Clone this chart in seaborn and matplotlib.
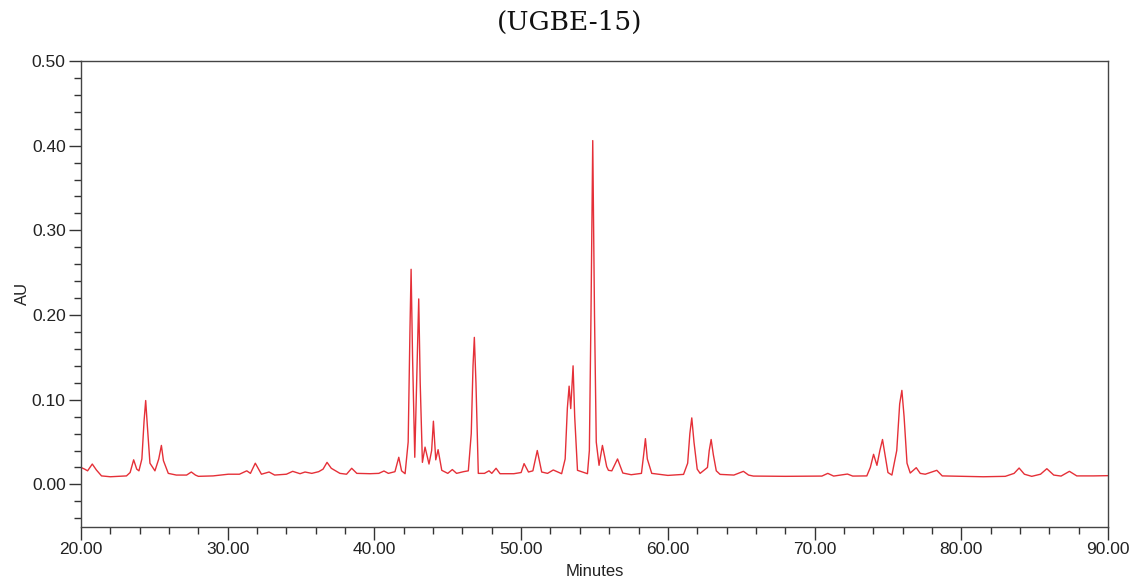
import numpy as np
import pandas as pd
import seaborn as sns
import matplotlib.pyplot as plt
from matplotlib.ticker import MultipleLocator, FormatStrFormatter

# chromatogram trace (retention time in minutes, absorbance in AU)
minutes = [
    20.00, 20.25, 20.45, 20.77, 21.05, 21.40, 22.00, 22.60, 23.10, 23.35,
    23.59, 23.80, 23.95, 24.15, 24.30, 24.41, 24.52, 24.70, 25.04, 25.30,
    25.48, 25.62, 25.95, 26.50, 27.20, 27.52, 27.80, 28.00, 29.00, 30.04,
    30.80, 31.30, 31.55, 31.88, 32.30, 32.82, 33.20, 34.00, 34.43, 34.93,
    35.27, 35.73, 36.20, 36.50, 36.77, 37.06, 37.65, 38.10, 38.45, 38.80,
    39.70, 40.30, 40.65, 40.95, 41.40, 41.66, 41.85, 42.09, 42.30, 42.42,
    42.50, 42.60, 42.75, 42.88, 43.02, 43.12, 43.27, 43.45, 43.72, 43.90,
    44.02, 44.18, 44.34, 44.59, 45.00, 45.31, 45.60, 46.07, 46.40, 46.60,
    46.72, 46.81, 46.92, 47.08, 47.50, 47.81, 48.00, 48.29, 48.56, 49.50,
    50.00, 50.20, 50.50, 50.80, 51.10, 51.40, 51.80, 52.19, 52.76, 53.00,
    53.15, 53.27, 53.38, 53.54, 53.65, 53.84, 54.52, 54.65, 54.76, 54.88,
    55.00, 55.12, 55.31, 55.54, 55.83, 55.95, 56.18, 56.57, 56.93, 57.50,
    58.20, 58.35, 58.47, 58.60, 58.90, 60.00, 61.07, 61.35, 61.50, 61.63,
    61.78, 62.00, 62.20, 62.70, 62.82, 62.95, 63.10, 63.30, 63.56, 64.50,
    65.15, 65.50, 65.83, 68.00, 70.50, 70.90, 71.30, 72.24, 72.60, 73.56,
    73.80, 74.02, 74.25, 74.45, 74.63, 74.80, 75.00, 75.27, 75.60, 75.80,
    75.95, 76.10, 76.30, 76.52, 76.93, 77.20, 77.54, 78.33, 78.70, 80.00,
    81.50, 83.00, 83.60, 83.94, 84.30, 84.80, 85.40, 85.83, 86.30, 86.80,
    87.37, 87.87, 89.00, 90.00,
]
au = [
    0.0200, 0.0180, 0.0160, 0.0240, 0.0170, 0.0100, 0.0090, 0.0095, 0.0100, 0.0140,
    0.0290, 0.0180, 0.0160, 0.0300, 0.0750, 0.0990, 0.0700, 0.0250, 0.0160, 0.0300,
    0.0460, 0.0280, 0.0130, 0.0110, 0.0110, 0.0146, 0.0110, 0.0095, 0.0100, 0.0120,
    0.0120, 0.0160, 0.0130, 0.0250, 0.0120, 0.0146, 0.0110, 0.0120, 0.0154, 0.0126,
    0.0146, 0.0130, 0.0150, 0.0180, 0.0260, 0.0190, 0.0130, 0.0120, 0.0190, 0.0130,
    0.0126, 0.0130, 0.0158, 0.0130, 0.0150, 0.0320, 0.0160, 0.0126, 0.0500, 0.1800,
    0.2540, 0.1500, 0.0320, 0.1200, 0.2190, 0.1200, 0.0260, 0.0440, 0.0240, 0.0400,
    0.0746, 0.0290, 0.0410, 0.0166, 0.0130, 0.0175, 0.0130, 0.0150, 0.0160, 0.0600,
    0.1400, 0.1736, 0.1200, 0.0130, 0.0130, 0.0160, 0.0130, 0.0190, 0.0126, 0.0126,
    0.0140, 0.0245, 0.0146, 0.0160, 0.0400, 0.0146, 0.0130, 0.0170, 0.0126, 0.0300,
    0.0900, 0.1160, 0.0895, 0.1400, 0.0800, 0.0166, 0.0126, 0.0400, 0.2000, 0.4060,
    0.2000, 0.0500, 0.0225, 0.0460, 0.0210, 0.0166, 0.0160, 0.0300, 0.0134, 0.0114,
    0.0130, 0.0350, 0.0540, 0.0300, 0.0130, 0.0106, 0.0118, 0.0250, 0.0600, 0.0785,
    0.0500, 0.0180, 0.0130, 0.0200, 0.0400, 0.0530, 0.0350, 0.0160, 0.0118, 0.0110,
    0.0154, 0.0110, 0.0098, 0.0095, 0.0098, 0.0130, 0.0098, 0.0122, 0.0098, 0.0100,
    0.0200, 0.0355, 0.0225, 0.0400, 0.0530, 0.0350, 0.0140, 0.0110, 0.0400, 0.0950,
    0.1110, 0.0800, 0.0250, 0.0134, 0.0197, 0.0130, 0.0120, 0.0166, 0.0100, 0.0095,
    0.0090, 0.0095, 0.0130, 0.0193, 0.0120, 0.0095, 0.0120, 0.0185, 0.0110, 0.0098,
    0.0154, 0.0100, 0.0100, 0.0103,
]

df = pd.DataFrame({"Minutes": minutes, "AU": au})

sns.set_style("ticks")
plt.rcParams["font.family"] = ["Liberation Sans", "DejaVu Sans"]

fig = plt.figure(figsize=(11.39, 5.87), dpi=100)
ax = fig.add_axes([0.0711, 0.1027, 0.9017, 0.7934])

sns.lineplot(data=df, x="Minutes", y="AU", color="#e53038", linewidth=1.0, ax=ax)

ax.set_xlim(20, 90)
ax.set_ylim(-0.05, 0.50)
ax.xaxis.set_major_locator(MultipleLocator(10))
ax.xaxis.set_minor_locator(MultipleLocator(2))
ax.yaxis.set_major_locator(MultipleLocator(0.1))
ax.yaxis.set_minor_locator(MultipleLocator(0.02))
ax.xaxis.set_major_formatter(FormatStrFormatter("%.2f"))
ax.yaxis.set_major_formatter(FormatStrFormatter("%.2f"))

ax.tick_params(axis="both", which="major", length=9, width=1, color="#333333",
               labelsize=12.5, labelcolor="#222222", direction="out", pad=2)
ax.tick_params(axis="both", which="minor", length=5, width=1, color="#333333",
               direction="out")

for side in ["left", "bottom", "top", "right"]:
    ax.spines[side].set_visible(True)
    ax.spines[side].set_color("#444444")
    ax.spines[side].set_linewidth(1)

ax.set_xlabel("Minutes", fontsize=12, color="#222222", labelpad=5)
ax.set_ylabel("AU", fontsize=12, color="#222222", labelpad=1)

fig.text(0.5, 0.962, "(UGBE-15)", ha="center", va="center", fontsize=19,
         family="DejaVu Serif", color="#111111")

fig.savefig("out.png", dpi=100)
